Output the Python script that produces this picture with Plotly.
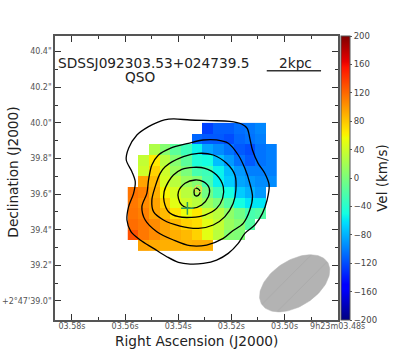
import numpy as np
import plotly.graph_objects as go

# velocity map (km/s), RA in seconds of 9h23m, Dec in arcsec of +2d47m
ra_cells = [3.557, 3.553, 3.549, 3.545, 3.541, 3.537, 3.533, 3.529, 3.525, 3.521, 3.517, 3.513, 3.509, 3.505]
dec_cells = [39.97, 39.91, 39.85, 39.79, 39.73, 39.67, 39.61, 39.55, 39.49, 39.43, 39.37, 39.31]
_ = None
vel = [
    [_, _, _, _, _, _, _, -125, -113, -113, -107, -103, -97, _],
    [_, _, _, _, _, _, -110, -115, -115, -120, -110, -105, -100, _],
    [_, _, 25, 5, -15, -30, -55, -85, -95, -105, -115, -120, -105, -100],
    [_, 35, 65, 30, 5, -15, -45, -50, -75, -90, -105, -115, -105, -100],
    [_, 40, 75, 40, 15, 0, -25, -30, -55, -75, -90, -100, -100, -100],
    [_, 95, 85, 45, 30, 15, 5, -25, -55, -70, -85, -90, -95, -95],
    [115, 110, 90, 60, 45, 30, 20, -5, -30, -50, -70, -80, -90, _],
    [113, 105, 95, 75, 50, 40, 30, 15, 0, -20, -50, -60, -60, _],
    [115, 110, 95, 85, 68, 55, 65, 40, 30, 10, -5, -25, -20, _],
    [118, 113, 105, 95, 85, 75, 70, 50, 35, 15, 5, -20, _, _],
    [130, 113, 105, 95, 90, 85, 75, 50, 30, 5, 2, _, _, _],
    [_, 95, 92, 90, 90, 88, 90, 90, _, _, _, _, _, _],
]

# flux contours
c1_ra = [3.54518, 3.54181, 3.53556, 3.52806, 3.52056, 3.51618, 3.51406, 3.51306, 3.51206, 3.50993, 3.50743, 3.50581,
         3.50656, 3.50831, 3.51118, 3.51493, 3.51743, 3.52118, 3.52556, 3.53056, 3.53556, 3.53993, 3.54431, 3.54931,
         3.55431, 3.55781, 3.55931, 3.55868, 3.55681, 3.55618, 3.55743, 3.55956, 3.55868, 3.55556, 3.55118, 3.54806, 3.54518]
c1_dec = [40.0163, 40.0220, 40.0163, 40.0126, 40.0088, 39.9939, 39.9695, 39.9133, 39.8478, 39.7729, 39.7167, 39.6512,
          39.5669, 39.4920, 39.4264, 39.3796, 39.3234, 39.2672, 39.2298, 39.2111, 39.2073, 39.2167, 39.2485, 39.2953,
          39.3422, 39.3890, 39.4545, 39.5294, 39.6043, 39.6699, 39.7261, 39.7916, 39.8571, 39.9321, 39.9789, 40.0014, 40.0163]
c2_ra = [3.53618, 3.53056, 3.52556, 3.52118, 3.51743, 3.51493, 3.51306, 3.51206, 3.51306, 3.51556, 3.51993, 3.52306,
         3.52931, 3.53556, 3.54181, 3.54806, 3.55243, 3.55368, 3.55181, 3.55118, 3.54993, 3.54743, 3.54306, 3.53618]
c2_dec = [39.8853, 39.9040, 39.9040, 39.8853, 39.8197, 39.7448, 39.6605, 39.5856, 39.5107, 39.4358, 39.3890, 39.3515,
          39.3141, 39.3103, 39.3422, 39.3890, 39.4545, 39.5294, 39.6043, 39.6792, 39.7635, 39.8197, 39.8571, 39.8853]
c3_ra = [3.54493, 3.53806, 3.53243, 3.52681, 3.52181, 3.51868, 3.51831, 3.51931, 3.52243, 3.52681, 3.53243, 3.53931,
         3.54556, 3.54931, 3.54993, 3.54868, 3.54681, 3.54493]
c3_dec = [39.7542, 39.8103, 39.8291, 39.8197, 39.7729, 39.7073, 39.6231, 39.5482, 39.4733, 39.4264, 39.4077, 39.4208,
          39.4545, 39.5013, 39.5669, 39.6418, 39.7167, 39.7542]
c4_ra = [3.54181, 3.53868, 3.53431, 3.52993, 3.52556, 3.52306, 3.52331, 3.52556, 3.52993, 3.53493, 3.53993, 3.54368,
         3.54531, 3.54531, 3.54368, 3.54181]
c4_dec = [39.7073, 39.7392, 39.7504, 39.7448, 39.7073, 39.6418, 39.5763, 39.5201, 39.4826, 39.4695, 39.4733, 39.5013,
          39.5575, 39.6137, 39.6699, 39.7073]
c5_ra = [3.53993, 3.53743, 3.53368, 3.53056, 3.52831, 3.52868, 3.53118, 3.53493, 3.53868, 3.53993, 3.53993]
c5_dec = [39.6137, 39.6605, 39.6793, 39.6699, 39.6324, 39.5856, 39.5388, 39.5201, 39.5388, 39.5763, 39.6137]
c6_ra = [3.53368, 3.53243, 3.53181, 3.53243, 3.53368, 3.53406, 3.53368]
c6_dec = [39.6310, 39.6290, 39.6137, 39.5930, 39.5920, 39.6100, 39.6310]
contours = [(c1_ra, c1_dec), (c2_ra, c2_dec), (c3_ra, c3_dec), (c4_ra, c4_dec), (c5_ra, c5_dec), (c6_ra, c6_dec)]

plus_ra, plus_dec = [3.53656], [39.5201]
circle_ra, circle_dec = [3.53243], [39.6306]

# beam (arcsec, degrees)
beam_ra, beam_dec = 3.49619, 39.099
beam_maj, beam_min, beam_pa = 0.44, 0.258, -57.6

x_ticks = [3.58, 3.56, 3.54, 3.52, 3.50, 3.48]
x_labels = ["03.58s", "03.56s", "03.54s", "03.52s", "03.50s", "9h23m03.48s"]
x_minor = [3.57, 3.55, 3.53, 3.51, 3.49]
y_ticks = [39.0, 39.2, 39.4, 39.6, 39.8, 40.0, 40.2, 40.4]
y_labels = ['+2°47\'39.0"', '39.2"', '39.4"', '39.6"', '39.8"', '40.0"', '40.2"', '40.4"']
y_minor = [39.1, 39.3, 39.5, 39.7, 39.9, 40.1, 40.3]
cbar_ticks = [200, 160, 120, 80, 40, 0, -40, -80, -120, -160, -200]
cbar_labels = ["200", "160", "120", "80", "40", "0", "−40", "−80", "−120", "−160", "−200"]

# matplotlib jet
jet = [
    [0, "rgb(0,0,128)"], [0.11, "rgb(0,0,255)"], [0.125, "rgb(0,0,255)"], [0.34, "rgb(0,219,255)"],
    [0.35, "rgb(0,230,247)"], [0.375, "rgb(20,255,226)"], [0.64, "rgb(238,255,8)"], [0.65, "rgb(247,246,0)"],
    [0.66, "rgb(255,236,0)"], [0.89, "rgb(255,19,0)"], [0.91, "rgb(232,0,0)"], [1, "rgb(128,0,0)"],
]

FONT = "DejaVu Sans"
AXIS_COLOR = "#555555"
TICK_FONT = dict(family=FONT, size=8, color="#555555")

fig = go.Figure()

fig.add_trace(go.Heatmap(
    x=ra_cells, y=dec_cells, z=vel, zmin=-200, zmax=200, colorscale=jet,
    hoverongaps=False,
    colorbar=dict(
        x=1.0123, xanchor="left", xref="paper", y=0, yanchor="bottom", yref="paper", len=1, lenmode="fraction",
        thickness=9, thicknessmode="pixels", xpad=0, ypad=0,
        tickvals=cbar_ticks, ticktext=cbar_labels, ticks="outside", ticklen=2, tickcolor=AXIS_COLOR,
        tickfont=dict(family=FONT, size=8.5, color="#444444"),
        outlinecolor=AXIS_COLOR, outlinewidth=1,
        title=dict(text="Vel (km/s)", side="right", font=dict(family=FONT, size=13.5, color="#222222")),
    ),
))

# beam ellipse
t = np.linspace(0, 2 * np.pi, 121)
pa = np.radians(beam_pa)
north = beam_maj / 2 * np.cos(t) * np.cos(pa) - beam_min / 2 * np.sin(t) * np.sin(pa)
east = beam_maj / 2 * np.cos(t) * np.sin(pa) + beam_min / 2 * np.sin(t) * np.cos(pa)
fig.add_trace(go.Scatter(
    x=beam_ra + east / 15, y=beam_dec + north, mode="lines", fill="toself",
    line=dict(color="#b3b3b3", width=0.5), fillcolor="#b3b3b3",
    fillpattern=dict(shape="/", bgcolor="#b3b3b3", fgcolor="#a0a0a0", size=16, solidity=0.06),
))

for ra, dec in contours:
    fig.add_trace(go.Scatter(
        x=ra, y=dec, mode="lines",
        line=dict(color="black", width=1.3, shape="spline", smoothing=0.9),
    ))

fig.add_trace(go.Scatter(
    x=plus_ra, y=plus_dec, mode="markers",
    marker=dict(symbol="cross-thin", size=9, line=dict(color="#2f9e5f", width=1.5)),
))
fig.add_trace(go.Scatter(
    x=circle_ra, y=circle_dec, mode="markers",
    marker=dict(symbol="circle-open", size=7, line=dict(color="#2a8fc0", width=1)),
))

axis_common = dict(
    showgrid=False, zeroline=False, showline=True, linecolor=AXIS_COLOR, linewidth=1.5, automargin=False,
    mirror="allticks", ticks="inside", ticklen=6, tickwidth=1, tickcolor="#333333", tickfont=TICK_FONT,
)
fig.update_xaxes(
    range=[3.58638, 3.47988], tickmode="array", tickvals=x_ticks, ticktext=x_labels, tickangle=0,
    ticklabelstandoff=-2,
    minor=dict(tickmode="array", tickvals=x_minor, ticks="inside", ticklen=3, tickwidth=1, tickcolor="#333333"),
    **axis_common,
)
fig.update_yaxes(
    range=[38.893, 40.488], tickmode="array", tickvals=y_ticks, ticktext=y_labels,
    minor=dict(tickmode="array", tickvals=y_minor, ticks="inside", ticklen=3, tickwidth=1, tickcolor="#333333"),
    **axis_common,
)


def label(x, y, text, size=13.7, rotate=0):
    fig.add_annotation(
        xref="paper", yref="paper", x=(x - 54.5) / 284, y=(320 - y) / 284, text=text, showarrow=False,
        textangle=rotate, xanchor="center", yanchor="middle", font=dict(family=FONT, size=size, color="#222222"),
    )


label(153.5, 63, "SDSSJ092303.53+024739.5")
label(140, 77, "QSO")
label(296, 63, "2kpc")
label(197, 341, "Right Ascension (J2000)")
label(12, 172, "Declination (J2000)", rotate=-90)

fig.add_shape(
    type="line", xref="paper", yref="paper", x0=(267 - 54.5) / 284, x1=(321.5 - 54.5) / 284,
    y0=(320 - 70.7) / 284, y1=(320 - 70.7) / 284, line=dict(color="#333333", width=1.5),
)

fig.update_layout(
    width=395, height=355, autosize=False, showlegend=False,
    margin=dict(l=54.5, r=56.5, t=36, b=35, pad=0, autoexpand=False),
    paper_bgcolor="white", plot_bgcolor="white",
)

fig.write_html(
    "out.html", config=dict(displayModeBar=False),
    post_script="document.body.style.margin='0';document.body.style.overflow='hidden';",
)
